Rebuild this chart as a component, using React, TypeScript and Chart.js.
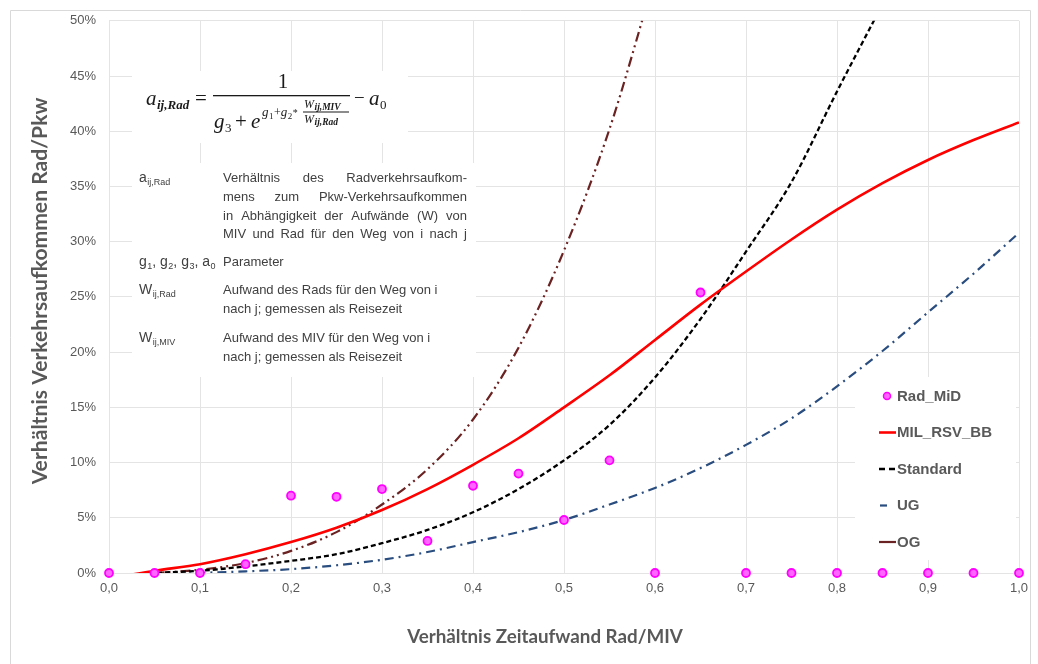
import React, { useEffect, useRef } from 'react';
import { Chart, registerables } from 'chart.js';
Chart.register(...registerables);

// ---------- data ----------
const xCurve = [0, 0.05, 0.1, 0.15, 0.2, 0.25, 0.3, 0.35, 0.4, 0.45, 0.5, 0.55, 0.6, 0.65, 0.7, 0.75, 0.8, 0.85, 0.9, 0.95, 1.0];
const milRsvBb = [-0.5, 0.2, 0.8, 1.7, 2.8, 4.1, 5.7, 7.6, 9.8, 12.2, 15.0, 17.9, 21.1, 24.3, 27.3, 30.2, 32.9, 35.3, 37.4, 39.2, 40.8];
const standard = [-0.3, 0.0, 0.2, 0.6, 1.1, 1.7, 2.7, 3.9, 5.5, 7.6, 10.2, 13.4, 17.7, 23.0, 29.1, 35.4, 43.6, 51.5, null, null, null];
const ugValues = [null, -0.3, 0.0, 0.15, 0.35, 0.7, 1.2, 1.9, 2.8, 3.7, 4.8, 6.2, 7.7, 9.5, 11.6, 14.0, 16.9, 20.1, 23.6, 27.1, 30.8];
const ogValues = [null, 0.0, 0.3, 0.9, 2.0, 3.7, 6.2, 9.4, 13.9, 20.4, 29.2, 40.2, 54.0, null, null, null, null, null, null, null, null];
const radMidX = [0, 0.05, 0.1, 0.15, 0.2, 0.25, 0.3, 0.35, 0.4, 0.45, 0.5, 0.55, 0.6, 0.65, 0.7, 0.75, 0.8, 0.85, 0.9, 0.95, 1.0];
const radMidY = [0, 0, 0, 0.8, 7.0, 6.9, 7.6, 2.9, 7.9, 9.0, 4.8, 10.2, 0, 25.4, 0, 0, 0, 0, 0, 0, 0];
const seriesNames = ['Rad_MiD', 'MIL_RSV_BB', 'Standard', 'UG', 'OG'];
const xAxisTitle = 'Verhältnis Zeitaufwand Rad/MIV';
const yAxisTitle = 'Verhältnis Verkehrsaufkommen Rad/Pkw';
const paragraph1 = [
  'Verhältnis des Radverkehrsaufkom-',
  'mens zum Pkw-Verkehrsaufkommen',
  'in Abhängigkeit der Aufwände (W) von',
  'MIV und Rad für den Weg von i nach j',
];
const paramText = 'Parameter';
const wRadText = ['Aufwand des Rads für den Weg von i', 'nach j; gemessen als Reisezeit'];
const wMivText = ['Aufwand des MIV für den Weg von i', 'nach j; gemessen als Reisezeit'];

const toPts = (xs: number[], ys: (number | null)[]) =>
  xs.map((x, i) => ({ x, y: ys[i] })).filter((p) => p.y !== null);

const GREY = '#595959';
const SANS = '"Liberation Sans", Arial, sans-serif';
const SERIF = '"Liberation Serif", "DejaVu Serif", serif';

function justify(ctx: CanvasRenderingContext2D, text: string, x: number, y: number, w: number) {
  const words = text.split(' ');
  const total = words.reduce((s, t) => s + ctx.measureText(t).width, 0);
  const gap = words.length > 1 ? (w - total) / (words.length - 1) : 0;
  let cx = x;
  words.forEach((t) => {
    ctx.fillText(t, cx, y);
    cx += ctx.measureText(t).width + gap;
  });
}

function sub(ctx: CanvasRenderingContext2D, main: string, subTxt: string, x: number, y: number, mainFont: string, subFont: string, dy: number) {
  ctx.font = mainFont;
  ctx.fillText(main, x, y);
  const w = ctx.measureText(main).width;
  ctx.font = subFont;
  ctx.fillText(subTxt, x + w + 0.5, y + dy);
  return x + w + 0.5 + ctx.measureText(subTxt).width;
}

const overlay = {
  id: 'overlay',
  beforeDatasetsDraw(chart: any) {
    const ctx = chart.ctx as CanvasRenderingContext2D;
    ctx.save();
    ctx.fillStyle = '#ffffff';
    ctx.fillRect(132, 71, 276, 72);
    ctx.fillRect(132, 163, 344, 214);
    ctx.fillRect(855, 377, 161, 183);
    ctx.restore();
  },
  afterDraw(chart: any) {
    const ctx = chart.ctx as CanvasRenderingContext2D;
    ctx.save();
    // outer frame
    ctx.strokeStyle = '#d9d9d9';
    ctx.lineWidth = 1;
    ctx.beginPath();
    ctx.moveTo(10.5, 664);
    ctx.lineTo(10.5, 10.5);
    ctx.lineTo(1030.5, 10.5);
    ctx.lineTo(1030.5, 664);
    ctx.stroke();

    // axis titles
    ctx.fillStyle = GREY;
    ctx.textAlign = 'center';
    ctx.textBaseline = 'middle';
    const fit = (text: string, target: number) => {
      let size = 17;
      ctx.font = `bold ${size}px Lato, sans-serif`;
      const w = ctx.measureText(text).width;
      size = size * target / w;
      ctx.font = `bold ${size.toFixed(2)}px Lato, sans-serif`;
    };
    fit(xAxisTitle, 276);
    ctx.fillText(xAxisTitle, 545, 637);
    ctx.save();
    ctx.translate(40, 291);
    ctx.rotate(-Math.PI / 2);
    fit(yAxisTitle, 387);
    ctx.fillText(yAxisTitle, 0, 0);
    ctx.restore();

    // formula
    ctx.textAlign = 'left';
    ctx.textBaseline = 'alphabetic';
    ctx.fillStyle = '#1a1a1a';
    const fI = `italic 21px ${SERIF}`;
    const fR = `21px ${SERIF}`;
    const sI = `italic 13px ${SERIF}`;
    sub(ctx, 'a', 'ij,Rad', 146, 105, fI, `italic bold 13px ${SERIF}`, 4);
    ctx.font = fR;
    ctx.fillText('=', 195, 105);
    ctx.textAlign = 'center';
    ctx.fillText('1', 283, 88);
    ctx.textAlign = 'left';
    ctx.fillRect(213, 95, 137, 1.3);
    ctx.font = `19px ${SERIF}`;
    ctx.fillText('\u2212', 354, 104);
    sub(ctx, 'a', '0', 369, 105, fI, `13px ${SERIF}`, 4);
    // denominator
    sub(ctx, 'g', '3', 214, 128, fI, `13px ${SERIF}`, 4);
    ctx.font = fR;
    ctx.fillText('+', 235, 128);
    ctx.font = fI;
    ctx.fillText('e', 251, 128);
    // exponent
    let ex = sub(ctx, 'g', '1', 262, 116, sI, `9px ${SERIF}`, 3);
    ctx.font = `12px ${SERIF}`;
    ctx.fillText('+', ex + 0.5, 116);
    ex += ctx.measureText('+').width + 0.5;
    ex = sub(ctx, 'g', '2', ex, 116, sI, `9px ${SERIF}`, 3);
    ctx.font = `10px ${SERIF}`;
    ctx.fillText('*', ex + 0.5, 116);
    // small fraction
    sub(ctx, 'W', 'ij,MIV', 304, 108, `italic 12px ${SERIF}`, `italic bold 9.5px ${SERIF}`, 2);
    ctx.fillRect(303, 111.5, 46, 1);
    sub(ctx, 'W', 'ij,Rad', 304, 123, `italic 12px ${SERIF}`, `italic bold 9.5px ${SERIF}`, 2);

    // description text
    ctx.fillStyle = '#404040';
    const tF = `13px ${SANS}`;
    const lF = `14px ${SANS}`;
    const lS = `9px ${SANS}`;
    sub(ctx, 'a', 'ij,Rad', 139, 182, lF, lS, 3);
    ctx.font = tF;
    paragraph1.forEach((line, i) => justify(ctx, line, 223, 182 + i * 18.8, 244));
    let gx = sub(ctx, 'g', '1', 139, 266, lF, lS, 3);
    ctx.font = lF; ctx.fillText(',', gx, 266); gx += ctx.measureText(', ').width;
    gx = sub(ctx, 'g', '2', gx, 266, lF, lS, 3);
    ctx.font = lF; ctx.fillText(',', gx, 266); gx += ctx.measureText(', ').width;
    gx = sub(ctx, 'g', '3', gx, 266, lF, lS, 3);
    ctx.font = lF; ctx.fillText(',', gx, 266); gx += ctx.measureText(', ').width;
    sub(ctx, 'a', '0', gx, 266, lF, lS, 3);
    ctx.font = tF;
    ctx.fillText(paramText, 223, 266);
    sub(ctx, 'W', 'ij,Rad', 139, 294, lF, lS, 3);
    ctx.font = tF;
    wRadText.forEach((line, i) => ctx.fillText(line, 223, 294 + i * 19));
    sub(ctx, 'W', 'ij,MIV', 139, 342, lF, lS, 3);
    ctx.font = tF;
    wMivText.forEach((line, i) => ctx.fillText(line, 223, 342 + i * 19));

    // legend
    const ds = chart.data.datasets;
    ctx.font = `bold 15px ${SANS}`;
    ctx.textBaseline = 'middle';
    seriesNames.forEach((name, i) => {
      const y = 396 + i * 36.5;
      const d = ds[i];
      ctx.save();
      if (i === 0) {
        ctx.beginPath();
        ctx.arc(887, y, 3.5, 0, Math.PI * 2);
        ctx.fillStyle = d.pointBackgroundColor;
        ctx.fill();
        ctx.lineWidth = 1.5;
        ctx.strokeStyle = d.pointBorderColor;
        ctx.stroke();
      } else {
        ctx.strokeStyle = d.borderColor;
        ctx.lineWidth = d.borderWidth;
        ctx.beginPath();
        if (i === 2) {
          ctx.moveTo(879, y); ctx.lineTo(885, y);
          ctx.moveTo(889, y); ctx.lineTo(895, y);
        } else if (i === 3) {
          ctx.moveTo(880, y); ctx.lineTo(887, y);
        } else {
          ctx.moveTo(879, y); ctx.lineTo(896, y);
        }
        ctx.stroke();
      }
      ctx.restore();
      ctx.fillStyle = GREY;
      ctx.fillText(name, 897, y + 0.5);
    });
    ctx.restore();
  },
};

export default function App() {
  const ref = useRef<HTMLCanvasElement | null>(null);
  useEffect(() => {
    if (!ref.current) return;
    const chart = new Chart(ref.current, {
      type: 'line',
      data: {
        datasets: [
          {
            label: seriesNames[0],
            data: toPts(radMidX, radMidY),
            showLine: false,
            pointRadius: 4,
            pointBackgroundColor: '#ff66ff',
            pointBorderColor: '#ff00ff',
            pointBorderWidth: 1.8,
            clip: false,
            order: 0,
          } as any,
          {
            label: seriesNames[1],
            data: toPts(xCurve, milRsvBb),
            borderColor: '#ff0000',
            borderWidth: 2.6,
            pointRadius: 0,
            cubicInterpolationMode: 'monotone',
            order: 1,
          },
          {
            label: seriesNames[2],
            data: toPts(xCurve, standard),
            borderColor: '#000000',
            borderWidth: 2.3,
            borderDash: [5, 3],
            pointRadius: 0,
            cubicInterpolationMode: 'monotone',
            order: 2,
          },
          {
            label: seriesNames[3],
            data: toPts(xCurve, ugValues),
            borderColor: '#2a4d7f',
            borderWidth: 2.2,
            borderDash: [9, 5, 2, 5],
            pointRadius: 0,
            cubicInterpolationMode: 'monotone',
            order: 3,
          },
          {
            label: seriesNames[4],
            data: toPts(xCurve, ogValues),
            borderColor: '#6b2222',
            borderWidth: 2.2,
            borderDash: [10, 4, 2, 4, 2, 4],
            pointRadius: 0,
            cubicInterpolationMode: 'monotone',
            order: 4,
          },
        ],
      },
      options: {
        responsive: false,
        animation: false,
        devicePixelRatio: 1,
        layout: { padding: { top: 17, right: 19, left: 0, bottom: 0 } },
        plugins: { legend: { display: false }, tooltip: { enabled: false } },
        scales: {
          x: {
            type: 'linear',
            min: 0,
            max: 1,
            ticks: {
              stepSize: 0.1,
              color: GREY,
              font: { family: SANS, size: 13 },
              padding: 8,
              callback: (v: any) => Number(v).toFixed(1).replace('.', ','),
            },
            grid: { color: '#e4e4e4', drawTicks: false },
            border: { display: false },
            afterFit: (s: any) => { s.height = 91; },
          },
          y: {
            type: 'linear',
            min: 0,
            max: 50,
            ticks: {
              stepSize: 5,
              color: GREY,
              font: { family: SANS, size: 13 },
              padding: 13,
              callback: (v: any) => `${Math.round(Number(v))}%`,
            },
            grid: { color: '#e4e4e4', drawTicks: false },
            border: { display: false },
            afterFit: (s: any) => { s.width = 109; },
          },
        },
      },
      plugins: [overlay],
    });
    return () => chart.destroy();
  }, []);
  return (
    <canvas
      ref={ref}
      width={1038}
      height={664}
      style={{ position: 'fixed', left: 0, top: 0, width: 1038, height: 664, background: '#fff' }}
    />
  );
}
